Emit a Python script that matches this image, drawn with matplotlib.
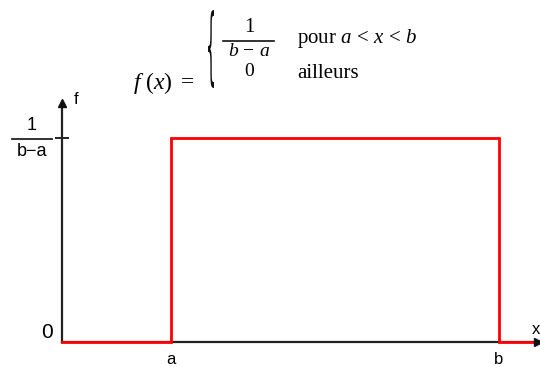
"""Uniform density sketch: f(x) = 1/(b-a) on ]a, b[, 0 elsewhere."""

import matplotlib
matplotlib.use("Agg")
import matplotlib.pyplot as plt
from matplotlib.patches import PathPatch
from matplotlib.textpath import TextPath
from matplotlib.font_manager import FontProperties
from matplotlib.transforms import Affine2D

# support of the density and drawn x range
support = [1.0, 4.0]          # a, b
x_range = [0.0, 4.357]
y_top = 0.3905
density = 1.0 / (support[1] - support[0])
tick_labels = ["a", "b"]

SANS = ["Liberation Sans Narrow", "Liberation Sans", "DejaVu Sans"]
SERIF = ["Liberation Serif", "DejaVu Serif"]

plt.rcParams["font.family"] = SERIF
plt.rcParams["mathtext.fontset"] = "custom"
plt.rcParams["mathtext.rm"] = "Liberation Serif"
plt.rcParams["mathtext.it"] = "Liberation Serif:italic"

W, H = 540, 367
fig = plt.figure(figsize=(W / 100, H / 100), dpi=100)

# main axes: y axis at px 62, x axis at px 342
left, right, bottom, top = 62, 538, 342, 103
ax = fig.add_axes([left / W, (H - bottom) / H, (right - left) / W, (bottom - top) / H])
ax.set_xlim(*x_range)
ax.set_ylim(0, y_top)
for side in ("top", "right"):
    ax.spines[side].set_visible(False)
for side in ("left", "bottom"):
    ax.spines[side].set_linewidth(1.6)
    ax.spines[side].set_color("#222222")
ax.set_xticks([])
ax.set_yticks([density])
ax.tick_params(axis="y", direction="inout", length=10, width=1.4, labelleft=False, color="#222222")

a, b = support
xs = [x_range[0], a, a, b, b, x_range[1]]
ys = [0, 0, density, density, 0, 0]
ax.plot(xs, ys, color="#ff0000", lw=2, clip_on=False, zorder=3, solid_joinstyle="miter")

# arrow heads
ax.plot([0], [1], marker="^", ms=6, color="#111111", transform=ax.transAxes, clip_on=False, zorder=4)
ax.plot([1], [0], marker=">", ms=6, color="#111111", transform=ax.transAxes, clip_on=False, zorder=4)

# a, b labels under the axis
xt = ax.get_xaxis_transform()
for val, lab in zip(support, tick_labels):
    ax.text(val, -0.072, lab, transform=xt, ha="center", va="center", fontsize=12, family=SANS)

# overlay in pixel coordinates for annotations
ov = fig.add_axes([0, 0, 1, 1], zorder=5)
ov.set_xlim(0, W)
ov.set_ylim(H, 0)
ov.axis("off")
ov.patch.set_alpha(0)

ov.text(536, 329, "x", ha="center", va="center", fontsize=12, family=SANS)
ov.text(76, 99, "f", ha="center", va="center", fontsize=12, family=SANS)
ov.text(47, 333, "0", ha="center", va="center", fontsize=15, family=SANS)
ov.text(32, 126, "1", ha="center", va="center", fontsize=13, family=SANS)
ov.plot([12, 52], [139, 139], color="#222222", lw=1.3)
ov.text(32, 152, "b\u2212a", ha="center", va="center", fontsize=13, family=SANS)

# formula
ov.text(133, 83, r"$f\ (x)\ =$", ha="left", va="center", fontsize=17)
tp = TextPath((0, 0), "{", size=10, prop=FontProperties(family="DejaVu Sans"))
ext = tp.get_extents()
sx, sy = 6 / ext.width, 78 / ext.height
trans = Affine2D().translate(-ext.x0, -ext.y0).scale(sx, -sy).translate(208, 88)
ov.add_patch(PathPatch(trans.transform_path(tp), facecolor="#111111", edgecolor="none"))

ov.text(249, 27, "1", ha="center", va="center", fontsize=15)
ov.plot([223, 274], [41, 41], color="#111111", lw=1.2)
ov.text(249, 52, r"$b\,-\,a$", ha="center", va="center", fontsize=14)
ov.text(249, 72, "0", ha="center", va="center", fontsize=14)
ov.text(297, 39, r"pour $a\,<\,x\,<\,b$", ha="left", va="center", fontsize=15)
ov.text(297, 74, "ailleurs", ha="left", va="center", fontsize=15)

fig.savefig("out.png", dpi=100, facecolor="white")
